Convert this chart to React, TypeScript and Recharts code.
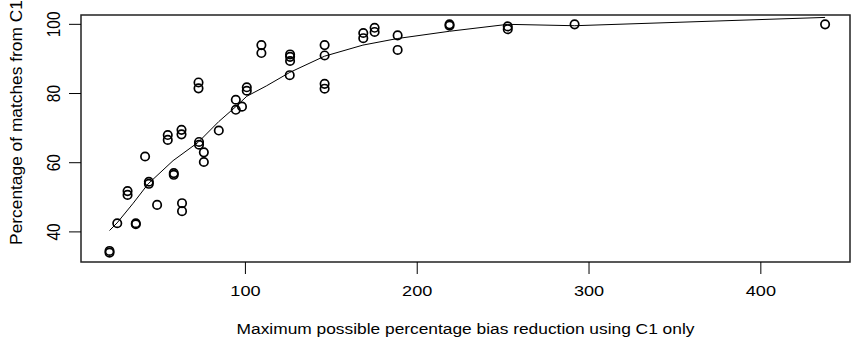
import React from "react";
import { ComposedChart, Scatter, Line, XAxis, YAxis, ReferenceArea, Label } from "recharts";

const pointX = [
  20.9, 20.9, 25.4, 31.4, 31.4, 36.2, 36.2, 41.6, 43.8, 43.8, 48.6, 54.8, 54.8,
  58.3, 58.3, 62.8, 62.8, 63.1, 63.1, 72.7, 72.7, 73.0, 73.0, 75.8, 75.8, 84.5,
  94.4, 94.4, 98.0, 100.8, 100.8, 109.3, 109.3, 126.0, 126.0, 126.0, 125.8,
  146.1, 146.1, 146.1, 146.1, 168.6, 168.6, 175.2, 175.2, 188.6, 188.6, 218.8,
  218.8, 252.7, 252.7, 291.6, 437.4,
];
const pointY = [
  34.5, 34.0, 42.5, 51.8, 50.7, 42.5, 42.2, 61.8, 54.5, 53.9, 47.8, 68.0, 66.6,
  57.0, 56.5, 69.5, 68.2, 48.3, 46.0, 83.2, 81.5, 66.0, 65.2, 63.0, 60.2, 69.3,
  78.2, 75.3, 76.2, 81.8, 80.8, 94.0, 91.7, 91.3, 90.6, 89.4, 85.3,
  94.0, 91.0, 82.8, 81.4, 97.5, 96.0, 99.0, 97.8, 96.8, 92.6, 100.0,
  99.6, 99.4, 98.6, 100.0, 100.0,
];

const smoothX = [20.9, 25.3, 34.7, 43.4, 57.9, 72.5, 84.5, 94.4, 100.8, 112.2, 125.8, 146.1, 168.4, 188.5, 218.8, 252.7, 291.6, 437.4];
const smoothY = [40.4, 42.6, 48.3, 53.9, 60.6, 65.9, 71.9, 76.2, 79.2, 82.2, 86.1, 90.8, 94.0, 95.9, 98.0, 100.0, 99.6, 102.0];

const xTicks = [100, 200, 300, 400];
const yTicks = [40, 60, 80, 100];
const xDomain = [4.3, 451.9];
const yDomain = [31.3, 102.7];

const xTitle = "Maximum possible percentage bias reduction using C1 only";
const yTitle = "Percentage of matches from C1";

const points = pointX.map((x, i) => ({ x, y: pointY[i] }));
const smooth = smoothX.map((x, i) => ({ x, y: smoothY[i] }));

const FONT = "'Liberation Sans', Arial, Helvetica, sans-serif";
const FS = 15.5;
const SX = 1.17;
const ST = 1.12;

const XTick = (props: any) => {
  const { x, y, payload } = props;
  return (
    <text
      transform={`translate(${x},${y + 20}) scale(${SX},1)`}
      textAnchor="middle"
      fontFamily={FONT}
      fontSize={FS}
      fill="#000"
    >
      {payload.value}
    </text>
  );
};

const YTick = (props: any) => {
  const { x, y, payload } = props;
  return (
    <text
      transform={`translate(${x - 7},${y}) scale(${SX},1) rotate(-90)`}
      textAnchor="middle"
      fontFamily={FONT}
      fontSize={FS}
      fill="#000"
    >
      {payload.value}
    </text>
  );
};

const Circle = (props: any) => (
  <circle cx={props.cx} cy={props.cy} r={4.2} fill="none" stroke="#000" strokeWidth={1.7} />
);

const XTitle = (props: any) => {
  const vb = props.viewBox;
  return (
    <text
      transform={`translate(${vb.x + vb.width / 2},${vb.y + 72}) scale(${ST},1)`}
      textAnchor="middle"
      fontFamily={FONT}
      fontSize={FS}
      fill="#000"
    >
      {xTitle}
    </text>
  );
};

const YTitle = (props: any) => {
  const vb = props.viewBox;
  return (
    <text
      transform={`translate(${vb.x + 21.7},${vb.y + vb.height / 2 - 16}) rotate(-90) scale(${ST},1.1)`}
      textAnchor="middle"
      fontFamily={FONT}
      fontSize={FS}
      fill="#000"
    >
      {yTitle}
    </text>
  );
};

export default function App() {
  return (
    <div style={{ position: "absolute", left: 0, top: 0, background: "#fff" }}>
      <ComposedChart
        width={851}
        height={341}
        margin={{ top: 15, right: 1, bottom: 0, left: 0 }}
        style={{ background: "#fff" }}
      >
        <XAxis
          dataKey="x"
          type="number"
          domain={xDomain}
          ticks={xTicks}
          allowDataOverflow
          height={79}
          tickSize={12}
          tickMargin={2}
          axisLine={false}
          tickLine={{ stroke: "#000", strokeWidth: 1 }}
          tick={<XTick />}
          interval={0}
        >
          <Label content={<XTitle />} />
        </XAxis>
        <YAxis
          dataKey="y"
          type="number"
          domain={yDomain}
          ticks={yTicks}
          allowDataOverflow
          width={81}
          tickSize={12}
          tickMargin={2}
          axisLine={false}
          tickLine={{ stroke: "#000", strokeWidth: 1 }}
          tick={<YTick />}
          interval={0}
        >
          <Label content={<YTitle />} />
        </YAxis>
        <ReferenceArea
          x1={xDomain[0]}
          x2={xDomain[1]}
          y1={yDomain[0]}
          y2={yDomain[1]}
          fill="none"
          fillOpacity={0}
          stroke="#222"
          strokeWidth={1.5}
          ifOverflow="visible"
        />
        <Scatter data={points} dataKey="y" shape={<Circle />} isAnimationActive={false} />
        <Line
          data={smooth}
          dataKey="y"
          type="linear"
          dot={false}
          activeDot={false}
          stroke="#000"
          strokeWidth={1}
          isAnimationActive={false}
        />
      </ComposedChart>
    </div>
  );
}
